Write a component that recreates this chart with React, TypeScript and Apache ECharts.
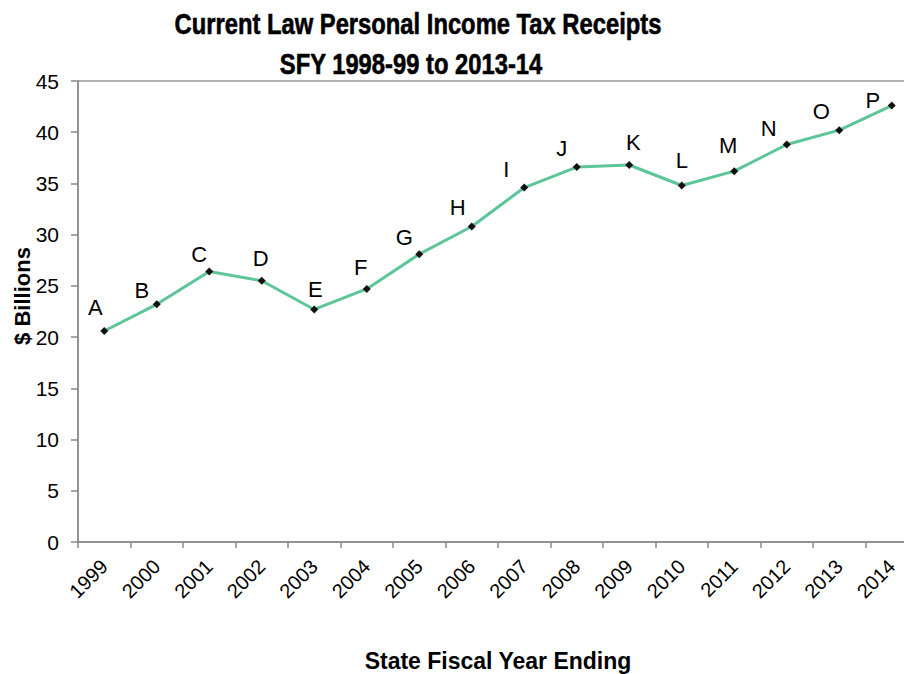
import React, { useEffect, useRef } from "react";
import * as echarts from "echarts";

const years = ["1999", "2000", "2001", "2002", "2003", "2004", "2005", "2006", "2007", "2008", "2009", "2010", "2011", "2012", "2013", "2014"];
const receipts = [20.6, 23.2, 26.4, 25.5, 22.7, 24.7, 28.1, 30.8, 34.6, 36.6, 36.8, 34.8, 36.2, 38.8, 40.2, 42.6];
const pointLetters = ["A", "B", "C", "D", "E", "F", "G", "H", "I", "J", "K", "L", "M", "N", "O", "P"];
const yTicks = { min: 0, max: 45, interval: 5 };

const titleLines = ["Current Law Personal Income Tax Receipts", "SFY 1998-99 to 2013-14"];
const xTitle = "State Fiscal Year Ending";
const yTitle = "$ Billions";

// label offsets (pixels) of each letter relative to its point
const labelOffsets = [
  [-9, -23], [-15, -14], [-10, -17], [-1, -22], [1, -20], [-6, -21], [-15, -17], [-14, -19],
  [-18, -18], [-15, -19], [4, -23], [0, -25], [-6, -26], [-18, -16], [-18, -19], [-19, -5],
];

const FONT = "'Liberation Sans', Arial, Helvetica, sans-serif";

export default function App() {
  const ref = useRef<HTMLDivElement>(null);
  useEffect(() => {
    if (!ref.current) return;
    const chart = echarts.init(ref.current, undefined, { renderer: "svg" });
    const data = receipts.map((v, i) => ({
      value: v,
      label: {
        show: true,
        formatter: pointLetters[i],
        position: "inside",
        offset: labelOffsets[i],
        color: "#000",
        fontSize: 22,
        fontFamily: FONT,
      },
    }));
    const titleStyle = {
      x: 0,
      y: 0,
      align: "center",
      verticalAlign: "middle",
      fontSize: 29,
      fontWeight: "bold",
      fontFamily: FONT,
      fill: "#000",
      stroke: "#000",
      lineWidth: 0.6,
    };
    chart.setOption({
      animation: false,
      backgroundColor: "#fff",
      grid: {
        left: 78,
        top: 81,
        width: 840,
        height: 461,
        containLabel: false,
        outerBoundsMode: "none",
        show: true,
        borderColor: "#666",
        borderWidth: 1,
        backgroundColor: "transparent",
      },
      xAxis: {
        type: "category",
        data: years,
        boundaryGap: true,
        axisLine: { show: true, lineStyle: { color: "#888", width: 1.5 } },
        axisTick: { show: true, length: 6, lineStyle: { color: "#888", width: 1.5 } },
        axisLabel: {
          rotate: 45,
          margin: 21,
          fontSize: 20,
          color: "#000",
          fontFamily: FONT,
          interval: 0,
        },
        splitLine: { show: false },
      },
      yAxis: {
        type: "value",
        min: yTicks.min,
        max: yTicks.max,
        interval: yTicks.interval,
        axisLine: { show: true, lineStyle: { color: "#888", width: 1.5 } },
        axisTick: { show: true, length: 7, lineStyle: { color: "#888", width: 1.5 } },
        axisLabel: { margin: 19, fontSize: 21, color: "#000", fontFamily: FONT },
        splitLine: { show: false },
      },
      series: [
        {
          type: "line",
          data,
          symbol: "diamond",
          symbolSize: 8,
          itemStyle: { color: "#111" },
          lineStyle: { color: "#5DC597", width: 3 },
          z: 3,
        },
      ],
      graphic: [
        {
          type: "text",
          x: 418,
          y: 24,
          scaleX: 0.82,
          style: { ...titleStyle, text: titleLines[0] },
        },
        {
          type: "text",
          x: 411,
          y: 64,
          scaleX: 0.82,
          style: { ...titleStyle, text: titleLines[1] },
        },
        {
          type: "text",
          x: 498,
          y: 661,
          style: {
            text: xTitle,
            align: "center",
            verticalAlign: "middle",
            fontSize: 23,
            fontWeight: "bold",
            fontFamily: FONT,
            fill: "#000",
          },
        },
        {
          type: "text",
          x: 22,
          y: 296,
          rotation: Math.PI / 2,
          style: {
            text: yTitle,
            x: 0,
            y: 0,
            align: "center",
            verticalAlign: "middle",
            fontSize: 22,
            fontWeight: "bold",
            fontFamily: FONT,
            fill: "#000",
          },
        },
      ],
    });
    return () => chart.dispose();
  }, []);
  return (
    <div
      ref={ref}
      style={{ position: "fixed", left: 0, top: 0, width: 904, height: 674, background: "#fff" }}
    />
  );
}
